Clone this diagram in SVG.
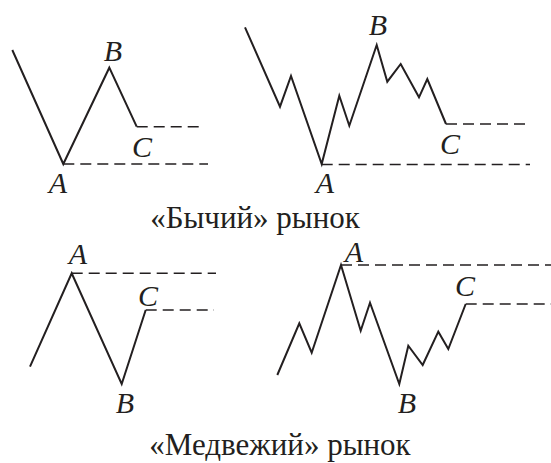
<svg xmlns="http://www.w3.org/2000/svg" width="551" height="463" viewBox="0 0 551 463">
<style>
.ln{fill:none;stroke:#231f20;stroke-width:2;stroke-linejoin:miter;stroke-linecap:butt}
.ds{fill:none;stroke:#231f20;stroke-width:1.4;stroke-dasharray:11 6}
.lb{font-family:"Liberation Serif",serif;font-style:italic;font-size:30px;fill:#231f20;text-anchor:middle}
.tt{font-family:"Liberation Serif",serif;font-size:31px;fill:#231f20;text-anchor:middle}
</style>
<rect width="551" height="463" fill="#fff"/>
<g id="connectors">
<polyline class="ln" points="12.3,50 63.3,164 109.3,67.7 136.7,126.7"/>
<line class="ds" x1="136.7" y1="126.7" x2="203" y2="126.7"/>
<line class="ds" x1="63.3" y1="164" x2="208" y2="164"/>
<polyline class="ln" points="245,27.3 280,106.7 291,76 321.7,164 339.3,95.7 349.3,125.7 376.7,45 387.3,81.7 400.7,64 419,97.3 427.3,79 446,124"/>
<line class="ds" x1="446" y1="124" x2="530" y2="124"/>
<line class="ds" x1="321.7" y1="164.5" x2="530" y2="164.5"/>
<polyline class="ln" points="30,366.7 71.7,273.3 121.7,384 145.7,310"/>
<line class="ds" x1="71.7" y1="273.3" x2="216" y2="273.3"/>
<line class="ds" x1="145.7" y1="310" x2="214" y2="310"/>
<polyline class="ln" points="277.3,375 299.3,323.3 311.7,352.7 341,265 360.7,330.7 370,302.7 399.3,384 408.3,345.7 422.7,365 438.3,331.7 448.3,349 465.7,304"/>
<line class="ds" x1="341" y1="265" x2="551" y2="265"/>
<line class="ds" x1="465.7" y1="304" x2="551" y2="304"/>
</g>
<g id="bull-simple-labels">
<text class="lb" x="113" y="61">B</text>
<text class="lb" x="142" y="157">C</text>
<text class="lb" x="58" y="193">A</text>
</g>
<g id="bull-complex-labels">
<text class="lb" x="378" y="35">B</text>
<text class="lb" x="450" y="154">C</text>
<text class="lb" x="325" y="193">A</text>
</g>
<g id="bear-simple-labels">
<text class="lb" x="78" y="264">A</text>
<text class="lb" x="148" y="306">C</text>
<text class="lb" x="125" y="413">B</text>
</g>
<g id="bear-complex-labels">
<text class="lb" x="354" y="262">A</text>
<text class="lb" x="465" y="296">C</text>
<text class="lb" x="407" y="413">B</text>
</g>
<g id="titles">
<text class="tt" x="255" y="228">«Бычий» рынок</text>
<text class="tt" x="280" y="455">«Медвежий» рынок</text>
</g>
</svg>
